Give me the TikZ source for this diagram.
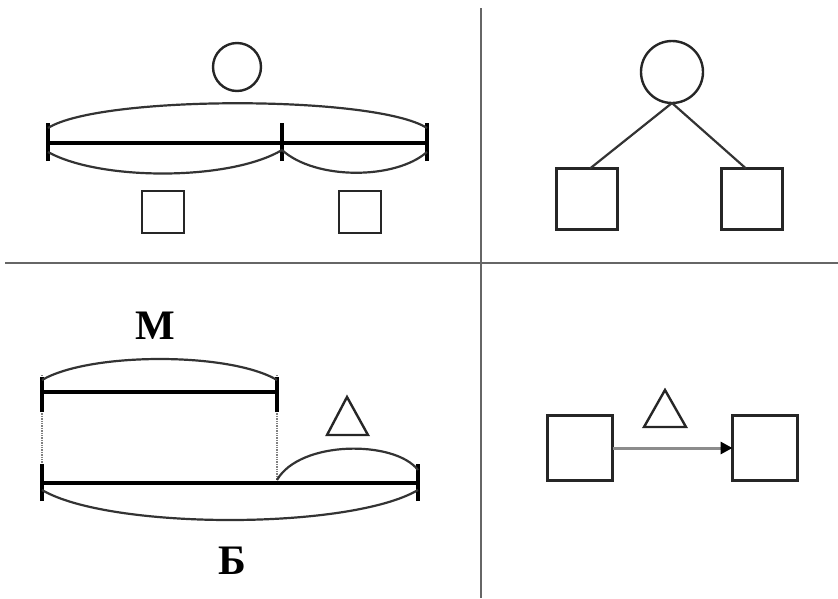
\documentclass[tikz,border=0pt]{standalone}
\usepackage{fontspec}
\newfontfamily\cyr{Liberation Serif}
\usetikzlibrary{arrows.meta}
\tikzset{
  seg/.style={line width=3.6pt, black},
  tick/.style={line width=3.4pt, black},
  brace/.style={line width=2.2pt, black!80},
  box/.style={draw=black!85, line width=2.6pt, minimum width=#1, minimum height=#1, inner sep=0pt, outer sep=0pt},
  ring/.style={draw=black!85, line width=2.4pt, circle, inner sep=0pt, outer sep=0pt, minimum size=#1},
  tri/.style={draw=black!85, line width=2.4pt, line join=miter},
  divider/.style={line width=2pt, black!60},
  guide/.style={line width=1.4pt, black!50, densely dotted},
  lbl/.style={font=\cyr\bfseries\fontsize{42}{42}\selectfont, inner sep=0pt}
}
\begin{document}
\begin{tikzpicture}[x=1pt, y=-1pt]
\useasboundingbox (0,0) rectangle (838,598);

% quadrant dividers
\draw[divider] (481,8) -- (481,598);
\draw[divider] (5,263) -- (838,263);

% ---- part-whole segment model (top left)
\node[ring=48pt] (wholeA) at (237,67) {};
\coordinate (a1) at (48,143);
\coordinate (a2) at (282,143);
\coordinate (a3) at (427,143);
\draw[seg] (a1) -- (a3);
\foreach \c in {a1,a2,a3} \draw[tick] ([yshift=-18pt]\c) -- ([yshift=20pt]\c);
\draw[brace] (48,128) .. controls (100,95) and (375,95) .. (427,128);
\draw[brace] (48,152) .. controls (100,181) and (230,181) .. (282,150);
\draw[brace] (282,150) .. controls (315,180) and (395,180) .. (427,152);
\node[box=42pt] (partA1) at (163,212) {};
\node[box=42pt] (partA2) at (360,212) {};

% ---- whole-part tree (top right)
\node[ring=62pt] (wholeB) at (672,72) {};
\node[box=61pt] (partB1) at (587,199) {};
\node[box=61pt] (partB2) at (752,199) {};
\draw[brace] (wholeB.south) -- ([xshift=3pt]partB1.north);
\draw[brace] (wholeB.south) -- ([xshift=-6pt]partB2.north);

% ---- comparison model (bottom left)
\node[lbl] (labM) at (155,326) {М};
\coordinate (m1) at (42,392);
\coordinate (m2) at (277,392);
\coordinate (b1) at (42,483);
\coordinate (bm) at (277,483);
\coordinate (b2) at (418,483);
% dotted guides first, so the ticks sit on top of them
\draw[guide] ([yshift=17pt]m1) -- ([yshift=-18pt]b1);
\draw[guide] ([yshift=17pt]m2) -- (bm);
\draw[seg] (m1) -- (m2);
\foreach \c in {m1,m2} \draw[tick] ([yshift=-20pt]\c) -- ([yshift=15pt]\c);
\draw[brace] (42,380) .. controls (90,352) and (230,352) .. (277,380);
\draw[seg] (b1) -- (b2);
\foreach \c in {b1,b2} \draw[tick] ([yshift=-18pt]\c) -- ([yshift=19pt]\c);
\draw[brace] (277,480) .. controls (300,440) and (395,440) .. (418,470);
\draw[brace] (42,490) .. controls (110,530) and (350,530) .. (418,490);
\draw[tri] (347,397) -- (368,435) -- (327,435) -- cycle;
\node[lbl] (labB) at (232,561) {Б};

% ---- change model (bottom right)
\node[box=65pt] (startC) at (580,448) {};
\node[box=65pt] (endC) at (765,448) {};
\draw[line width=3pt, black!45, -{Triangle[length=12pt,width=12pt,fill=black,color=black]}] (startC.east) -- (endC.west);
\draw[tri] (665,390) -- (686,427) -- (644,427) -- cycle;
\end{tikzpicture}
\end{document}
